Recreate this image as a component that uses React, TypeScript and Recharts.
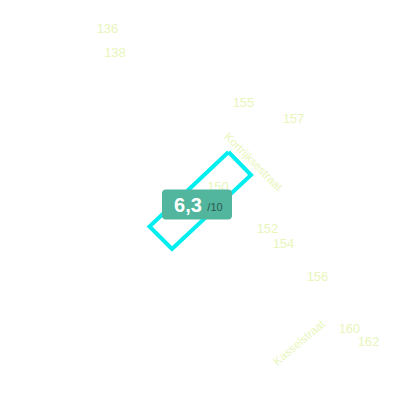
import { ScatterChart, Scatter, XAxis, YAxis } from "recharts";

// house numbers on the map (map units, y grows downwards)
const houseNumbers = ["136", "138", "150", "152", "154", "155", "156", "157", "160", "162"];
const houseX = [107.5, 115, 218, 267.5, 283.5, 243.5, 317.5, 293.5, 349.5, 368.5];
const houseY = [28, 52, 186, 228, 243.5, 102.5, 276, 118, 328, 341];

const streetNames = ["Kortrijksestraat", "Kasselstraat"];
const streetX = [253.5, 299];
const streetY = [161.5, 342.5];
const streetAngle = [45, -40];

// selected parcel outline (closed)
const parcelX = [228.5, 251, 172, 149.5, 228.5];
const parcelY = [152, 175, 249, 226.5, 152];

const scoreValue = [6.3];
const scoreMax = [10];
const scoreX = [197];
const scoreY = [204.5];

const houseData = houseNumbers.map((label, i) => ({ label, x: houseX[i], y: houseY[i] }));
const streetData = streetNames.map((label, i) => ({ label, x: streetX[i], y: streetY[i], angle: streetAngle[i] }));
const parcelData = parcelX.map((x, i) => ({ x, y: parcelY[i] }));
const scoreData = scoreValue.map((v, i) => ({ v, max: scoreMax[i], x: scoreX[i], y: scoreY[i] }));

const labelColor = "#e8f6bc";
const font = "'Liberation Sans', Arial, sans-serif";

function HouseLabel(props: any) {
  const { cx, cy, payload } = props;
  return (
    <text x={cx} y={cy} textAnchor="middle" dominantBaseline="central" fontSize={13} fontFamily={font} fill={labelColor}>
      {payload.label}
    </text>
  );
}

function StreetLabel(props: any) {
  const { cx, cy, payload } = props;
  return (
    <text
      x={cx}
      y={cy}
      textAnchor="middle"
      dominantBaseline="central"
      fontSize={11.5}
      fontFamily={font}
      fill={labelColor}
      transform={`rotate(${payload.angle} ${cx} ${cy})`}
    >
      {payload.label}
    </text>
  );
}

function ScoreBadge(props: any) {
  const { cx, cy, payload } = props;
  return (
    <g>
      <rect x={cx - 35} y={cy - 15} width={70} height={30} rx={4} fill="#52b59d" />
      <text x={cx - 9} y={cy + 7} textAnchor="middle" fontSize={20} fontWeight="bold" fontFamily={font} fill="#ffffff">
        {payload.v.toFixed(1).replace(".", ",")}
      </text>
      <text x={cx + 18} y={cy + 6} textAnchor="middle" fontSize={11} fontFamily={font} fill="#2d5a50">
        /{payload.max}
      </text>
    </g>
  );
}

export default function App() {
  return (
    <div style={{ position: "fixed", left: 0, top: 0, width: 400, height: 400, background: "#fff" }}>
      <ScatterChart width={400} height={400} margin={{ top: 0, right: 0, bottom: 0, left: 0 }}>
        <XAxis type="number" dataKey="x" domain={[0, 400]} hide />
        <YAxis type="number" dataKey="y" domain={[0, 400]} reversed hide />
        <Scatter data={houseData} shape={<HouseLabel />} isAnimationActive={false} />
        <Scatter data={streetData} shape={<StreetLabel />} isAnimationActive={false} />
        <Scatter
          data={parcelData}
          line={{ stroke: "#00eef0", strokeWidth: 4 }}
          lineJointType="linear"
          shape={() => <g />}
          isAnimationActive={false}
        />
        <Scatter data={scoreData} shape={<ScoreBadge />} isAnimationActive={false} />
      </ScatterChart>
    </div>
  );
}
